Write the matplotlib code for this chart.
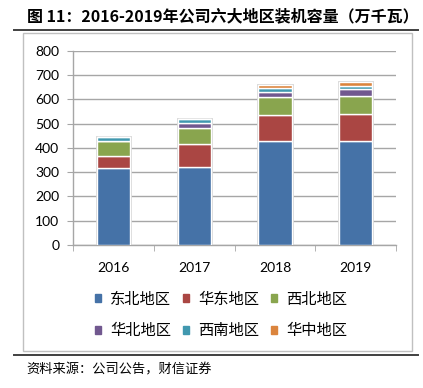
import numpy as np
import matplotlib
matplotlib.use("Agg")
import matplotlib.pyplot as plt
from matplotlib.patches import Rectangle
from matplotlib.lines import Line2D

plt.rcParams['font.family'] = ['Lato', 'Noto Sans CJK SC', 'DejaVu Sans']

years = ['2016', '2017', '2018', '2019']
# 装机容量（万千瓦），按地区从下往上堆叠
dongbei = [318, 322, 429, 429]
huadong = [48, 94, 107, 110]
xibei = [62, 67, 72, 73]
huabei = [0, 20, 22, 30]
xinan = [18, 14, 15, 14]
huazhong = [0, 0, 13, 14]

regions = ['东北地区', '华东地区', '西北地区', '华北地区', '西南地区', '华中地区']
colors = ['#4572A7', '#AA4643', '#89A54E', '#71588F', '#4198AF', '#DB843D']
series = [dongbei, huadong, xibei, huabei, xinan, huazhong]

W, H = 423, 388
fig = plt.figure(figsize=(W / 100, H / 100), dpi=100)
ax = fig.add_axes([73.3 / W, 1 - 245 / H, (396 - 73.3) / W, (245 - 50.7) / H])

x = np.arange(len(years))
width = 0.41

# light shadow behind each stacked bar
total = np.sum(series, axis=0)
ax.bar(x, total, width, color='none', edgecolor='#d4d4d4', linewidth=2.0, zorder=2)

bottom = np.zeros(len(years))
for vals, c in zip(series, colors):
    ax.bar(x, vals, width, bottom=bottom, color=c, edgecolor='white',
           linewidth=1.0, zorder=3)
    bottom += np.array(vals)

ax.set_ylim(0, 800)
ax.set_yticks(np.arange(0, 801, 100))
ax.set_xlim(-0.5, len(years) - 0.5)
ax.set_xticks(x)
ax.set_xticklabels(years)
ax.set_xticks(np.arange(-0.5, len(years)), minor=True)

ax.grid(axis='y', color='#a6a6a6', linewidth=1.0, zorder=0)
ax.set_axisbelow(True)
for s in ['top', 'right']:
    ax.spines[s].set_visible(False)
for s in ['left', 'bottom']:
    ax.spines[s].set_color('#a6a6a6')
    ax.spines[s].set_linewidth(1.0)

ax.tick_params(axis='y', direction='out', length=4, color='#a6a6a6',
               labelsize=10, pad=6, labelcolor='#000000')
ax.tick_params(axis='x', which='major', length=0, labelsize=10, pad=12)
ax.tick_params(axis='x', which='minor', direction='out', length=4, color='#a6a6a6')

# legend is filled row by row in the reference
handles = [Rectangle((0, 0), 1, 1, color=c) for c in colors]
order = [0, 3, 1, 4, 2, 5]
fig.legend([handles[i] for i in order], [regions[i] for i in order],
           loc='center', bbox_to_anchor=(221 / W, 1 - 315 / H),
           ncol=3, frameon=False, handlelength=0.42, handleheight=0.42,
           handletextpad=0.6, columnspacing=0.75, labelspacing=0.95,
           prop={'family': ['Noto Sans CJK SC'], 'size': 11})

# frame and rules of the report figure
fig.add_artist(Line2D([14 / W, 418 / W], [1 - 30 / H] * 2, color='#404040', lw=1.4))
fig.add_artist(Line2D([14 / W, 418 / W], [1 - 355 / H] * 2, color='#404040', lw=1.4))
fig.add_artist(Rectangle((23 / W, 1 - 351 / H), (412 - 23) / W, (351 - 33) / H,
                         fill=False, edgecolor='#c0c0c0', lw=1.0,
                         transform=fig.transFigure))

fig.text(27 / W, 1 - 16 / H, '图 11：2016-2019年公司六大地区装机容量（万千瓦）',
         fontsize=11.5, fontweight='bold', va='center', ha='left',
         family=['Noto Sans CJK SC'])
fig.text(26 / W, 1 - 370 / H, '资料来源：公司公告，财信证券', fontsize=9.5,
         style='italic', va='center', ha='left', family=['Noto Sans CJK SC'])

fig.savefig('out.png', dpi=100)
